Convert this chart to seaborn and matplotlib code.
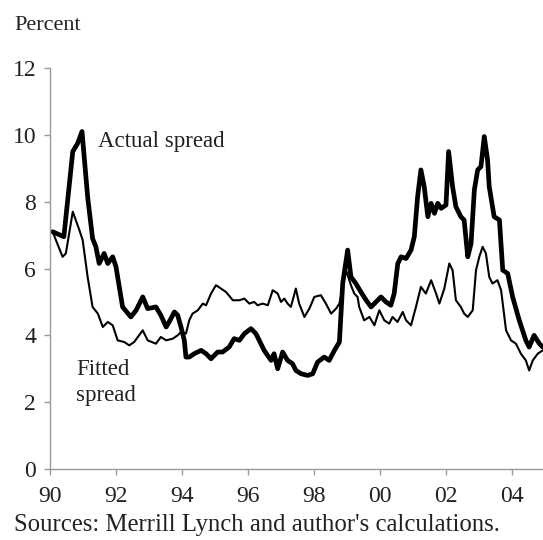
import matplotlib
matplotlib.use("Agg")
import matplotlib.pyplot as plt
import seaborn as sns
import pandas as pd

# Actual spread (decimal year, percent)
actual_t = [1990.08, 1990.42, 1990.69, 1990.84, 1990.97, 1991.14, 1991.29, 1991.39, 1991.49, 1991.64,
            1991.75, 1991.90, 1992.00, 1992.20, 1992.45, 1992.61, 1992.81, 1992.96, 1993.21, 1993.36,
            1993.52, 1993.61, 1993.77, 1993.87, 1993.97, 1994.07, 1994.12, 1994.22, 1994.37, 1994.58,
            1994.73, 1994.88, 1995.08, 1995.23, 1995.43, 1995.58, 1995.74, 1995.89, 1996.09, 1996.24,
            1996.39, 1996.49, 1996.70, 1996.79, 1996.90, 1997.05, 1997.20, 1997.35, 1997.45, 1997.61,
            1997.81, 1997.96, 1998.11, 1998.31, 1998.46, 1998.62, 1998.77, 1998.87, 1999.02, 1999.12,
            1999.27, 1999.42, 1999.58, 1999.73, 1999.88, 2000.03, 2000.18, 2000.33, 2000.43, 2000.54,
            2000.64, 2000.79, 2000.94, 2001.04, 2001.14, 2001.24, 2001.34, 2001.45, 2001.55, 2001.65,
            2001.75, 2001.85, 2002.00, 2002.08, 2002.20, 2002.30, 2002.45, 2002.55, 2002.66, 2002.76,
            2002.86, 2002.96, 2003.06, 2003.16, 2003.26, 2003.31, 2003.46, 2003.62, 2003.72, 2003.87,
            2004.02, 2004.22, 2004.42, 2004.52, 2004.67, 2004.83, 2004.93]
actual_v = [7.1, 6.95, 9.5, 9.75, 10.1, 8.15, 6.9, 6.65, 6.15, 6.45,
            6.15, 6.35, 6.05, 4.85, 4.55, 4.75, 5.15, 4.8, 4.85, 4.6,
            4.25, 4.4, 4.7, 4.6, 4.25, 3.85, 3.35, 3.35, 3.45, 3.55,
            3.45, 3.3, 3.5, 3.5, 3.65, 3.9, 3.85, 4.05, 4.2, 4.05,
            3.75, 3.55, 3.25, 3.45, 3.0, 3.5, 3.25, 3.15, 2.95, 2.85,
            2.8, 2.85, 3.2, 3.35, 3.25, 3.55, 3.8, 5.55, 6.55, 5.75,
            5.55, 5.3, 5.05, 4.85, 5.0, 5.15, 5.0, 4.9, 5.25, 6.15,
            6.35, 6.3, 6.55, 6.95, 8.15, 8.95, 8.45, 7.55, 7.95, 7.65,
            7.95, 7.8, 7.9, 9.5, 8.45, 7.85, 7.55, 7.45, 6.35, 6.75,
            8.35, 8.95, 9.05, 9.95, 9.25, 8.45, 7.55, 7.45, 5.95, 5.85,
            5.15, 4.45, 3.85, 3.65, 4.0, 3.75, 3.65]

# Fitted spread (decimal year, percent)
fitted_t = [1990.08, 1990.38, 1990.48, 1990.69, 1990.89, 1990.99, 1991.14, 1991.29, 1991.45, 1991.60,
            1991.75, 1991.90, 1992.05, 1992.25, 1992.40, 1992.55, 1992.81, 1992.96, 1993.21, 1993.36,
            1993.52, 1993.72, 1993.87, 1993.97, 1994.12, 1994.22, 1994.32, 1994.48, 1994.63, 1994.73,
            1994.88, 1995.03, 1995.18, 1995.33, 1995.54, 1995.74, 1995.89, 1996.04, 1996.19, 1996.29,
            1996.45, 1996.60, 1996.75, 1996.90, 1997.00, 1997.10, 1997.20, 1997.30, 1997.45, 1997.55,
            1997.71, 1997.86, 1998.01, 1998.21, 1998.36, 1998.52, 1998.67, 1998.77, 1998.87, 1998.97,
            1999.12, 1999.22, 1999.32, 1999.37, 1999.52, 1999.68, 1999.83, 1999.98, 2000.13, 2000.28,
            2000.38, 2000.53, 2000.69, 2000.79, 2000.94, 2001.09, 2001.24, 2001.39, 2001.55, 2001.70,
            2001.80, 2001.95, 2002.10, 2002.20, 2002.30, 2002.45, 2002.55, 2002.66, 2002.81, 2002.91,
            2003.01, 2003.11, 2003.21, 2003.31, 2003.41, 2003.56, 2003.67, 2003.82, 2003.97, 2004.12,
            2004.27, 2004.42, 2004.52, 2004.63, 2004.78, 2004.93]
fitted_v = [7.1, 6.35, 6.45, 7.7, 7.15, 6.85, 5.75, 4.85, 4.65, 4.25,
            4.4, 4.3, 3.85, 3.8, 3.7, 3.8, 4.15, 3.85, 3.75, 3.95,
            3.85, 3.9, 4.0, 4.1, 4.05, 4.45, 4.65, 4.75, 4.95, 4.9,
            5.25, 5.5, 5.4, 5.3, 5.05, 5.05, 5.1, 4.95, 5.0, 4.9,
            4.95, 4.9, 5.35, 5.25, 5.0, 5.1, 4.95, 4.85, 5.4, 4.95,
            4.55, 4.8, 5.15, 5.2, 4.95, 4.65, 4.8, 4.95, 5.45, 5.95,
            5.5, 5.25, 5.15, 4.85, 4.45, 4.55, 4.3, 4.75, 4.45, 4.35,
            4.55, 4.4, 4.7, 4.45, 4.3, 4.85, 5.45, 5.25, 5.65, 5.25,
            4.95, 5.4, 6.15, 5.95, 5.05, 4.85, 4.65, 4.55, 4.75, 5.95,
            6.35, 6.65, 6.45, 5.75, 5.55, 5.65, 5.35, 4.15, 3.85, 3.75,
            3.45, 3.25, 2.95, 3.25, 3.45, 3.55]

x_ticks = [1990, 1992, 1994, 1996, 1998, 2000, 2002, 2004]
x_labels = ["90", "92", "94", "96", "98", "00", "02", "04"]
y_ticks = [0, 2, 4, 6, 8, 10, 12]

sns.set_theme(style="white")
plt.rcParams["font.family"] = ["Liberation Serif", "DejaVu Serif"]

fig = plt.figure(figsize=(5.43, 5.40), dpi=100)
ax = fig.add_axes([50 / 543, 71 / 540, 493 / 543, 401 / 540])

df_a = pd.DataFrame({"t": actual_t, "v": actual_v})
df_f = pd.DataFrame({"t": fitted_t, "v": fitted_v})
sns.lineplot(data=df_f, x="t", y="v", ax=ax, color="black", linewidth=1.5, estimator=None)
sns.lineplot(data=df_a, x="t", y="v", ax=ax, color="black", linewidth=3.4, estimator=None)

ax.set_xlim(1990, 2004.94)
ax.set_ylim(0, 12)
ax.set_xticks(x_ticks)
ax.set_xticklabels(x_labels)
ax.set_yticks(y_ticks)
ax.set_xlabel("")
ax.set_ylabel("")

for s in ["top", "right"]:
    ax.spines[s].set_visible(False)
for s in ["left", "bottom"]:
    ax.spines[s].set_color("#9a9a9a")
    ax.spines[s].set_linestyle((0, (1, 1)))
    ax.spines[s].set_linewidth(1.0)

ax.tick_params(axis="both", which="major", labelsize=17, colors="#9a9a9a",
               labelcolor="#222222", length=4, width=1.0, direction="out")
ax.tick_params(axis="x", pad=8)
ax.tick_params(axis="y", pad=6)
ax.tick_params(left=True, bottom=True)

ax.text(1991.45, 9.8, "Actual spread", fontsize=16.5, color="#222222", ha="left", va="center")
ax.text(1990.8, 2.6, "Fitted\nspread", fontsize=16.5, color="#222222", ha="left", va="center",
        linespacing=1.3)

fig.text(14 / 543, 1 - 25 / 540, "Percent", fontsize=16, color="#222222", ha="left", va="center")
fig.text(14 / 543, 1 - 525 / 540, "Sources: Merrill Lynch and author's calculations.",
         fontsize=17.8, color="#222222", ha="left", va="center")

fig.savefig("out.png", dpi=100)
